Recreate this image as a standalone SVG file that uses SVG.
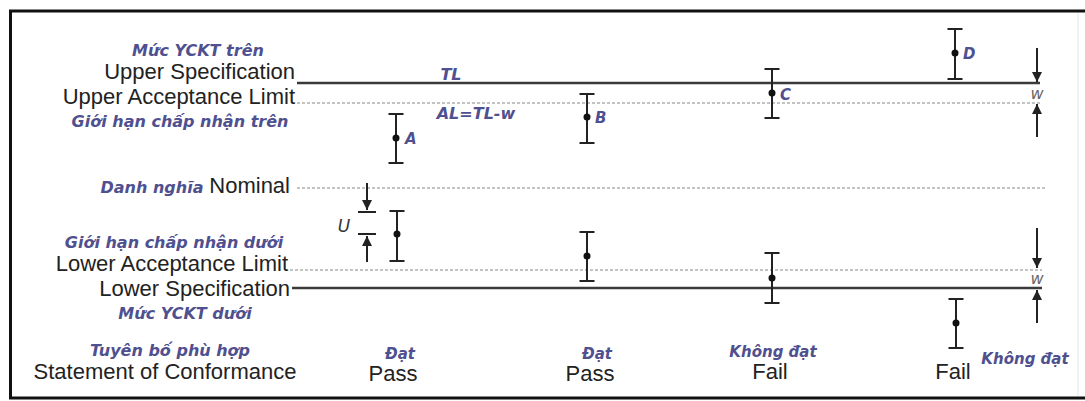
<svg xmlns="http://www.w3.org/2000/svg" width="1085" height="401" viewBox="0 0 1085 401">
  <style>
    .lbl { font-family: "Liberation Sans", Arial, sans-serif; font-size: 22px; fill: #222; }
    .vn { font-family: "DejaVu Sans", Verdana, sans-serif; font-size: 16px; font-style: italic; font-weight: bold; fill: #4f508f; }
    .pt { font-family: "DejaVu Sans", Verdana, sans-serif; font-size: 15px; font-style: italic; font-weight: bold; fill: #4f508f; }
    .w { font-family: "DejaVu Sans", Verdana, sans-serif; font-size: 16px; font-style: italic; fill: #666; }
    .u { font-family: "DejaVu Sans", Verdana, sans-serif; font-size: 17px; font-style: italic; fill: #333; }
    .spec { stroke: #3a3a3a; stroke-width: 2.5; fill: none; }
    .acc { stroke: #b0b0b0; stroke-width: 1.5; stroke-dasharray: 3 2; fill: none; }
    .bar { stroke: #222; stroke-width: 2; fill: none; }
    .dot { fill: #111; }
    .arr { stroke: #222; stroke-width: 2; fill: none; marker-end: url(#ah); }
    .tick { stroke: #222; stroke-width: 2; }
    .frame { stroke: #111; stroke-width: 3; fill: none; }
  </style>
  <defs>
    <marker id="ah" viewBox="0 0 10 10" refX="10" refY="5" markerWidth="10" markerHeight="10" markerUnits="userSpaceOnUse" orient="auto">
      <path d="M0,0 L10,5 L0,10 z" fill="#222"/>
    </marker>
  </defs>
  <rect x="0" y="0" width="1085" height="401" fill="#fff"/>

  <g id="frame">
    <path class="frame" d="M1085,11 L10.5,11 L10.5,398 L1085,398"/>
    <line x1="1078" y1="13" x2="1078" y2="396" stroke="#e4e4e4" stroke-width="1"/>
  </g>

  <g id="limits">
    <line class="spec" x1="297" y1="83" x2="1040" y2="83"/>
    <line class="acc" x1="297" y1="103" x2="1042" y2="103"/>
    <line class="acc" x1="297" y1="188" x2="1045" y2="188"/>
    <line class="acc" x1="290" y1="270" x2="1042" y2="270"/>
    <line class="spec" x1="292" y1="288" x2="1042" y2="288"/>
  </g>

  <g id="axis-labels">
    <text class="vn" x="198" y="56" text-anchor="middle">Mức YCKT trên</text>
    <text class="lbl" x="295" y="79" text-anchor="end">Upper Specification</text>
    <text class="lbl" x="295" y="104" text-anchor="end">Upper Acceptance Limit</text>
    <text class="vn" x="180" y="127" text-anchor="middle">Giới hạn chấp nhận trên</text>
    <text class="vn" x="152" y="193" text-anchor="middle">Danh nghĩa</text>
    <text class="lbl" x="290" y="193" text-anchor="end">Nominal</text>
    <text class="vn" x="174" y="248" text-anchor="middle">Giới hạn chấp nhận dưới</text>
    <text class="lbl" x="288" y="271" text-anchor="end">Lower Acceptance Limit</text>
    <text class="lbl" x="290" y="296" text-anchor="end">Lower Specification</text>
    <text class="vn" x="185" y="319" text-anchor="middle">Mức YCKT dưới</text>
    <text class="vn" x="170" y="356" text-anchor="middle">Tuyên bố phù hợp</text>
    <text class="lbl" x="165" y="379" text-anchor="middle">Statement of Conformance</text>
    <text class="vn" x="451" y="80" text-anchor="middle">TL</text>
    <text class="vn" x="476" y="119" text-anchor="middle">AL=TL-w</text>
  </g>

  <g id="bar-A">
    <path class="bar" d="M396,114 V163 M388.5,114 H403.5 M388.5,163 H403.5"/>
    <circle class="dot" cx="396" cy="138" r="3.5"/>
    <text class="pt" x="405" y="144">A</text>
  </g>
  <g id="bar-B">
    <path class="bar" d="M587,94 V143 M579.5,94 H594.5 M579.5,143 H594.5"/>
    <circle class="dot" cx="587" cy="117" r="3.5"/>
    <text class="pt" x="595" y="123">B</text>
  </g>
  <g id="bar-C">
    <path class="bar" d="M772,69 V118 M764.5,69 H779.5 M764.5,118 H779.5"/>
    <circle class="dot" cx="772" cy="93" r="3.5"/>
    <text class="pt" x="780" y="100">C</text>
  </g>
  <g id="bar-D">
    <path class="bar" d="M955,29 V79 M947.5,29 H962.5 M947.5,79 H962.5"/>
    <circle class="dot" cx="955" cy="53" r="3.5"/>
    <text class="pt" x="963" y="59">D</text>
  </g>

  <g id="bar-A-low">
    <path class="bar" d="M397,211 V261 M389.5,211 H404.5 M389.5,261 H404.5"/>
    <circle class="dot" cx="397" cy="234" r="3.5"/>
  </g>
  <g id="bar-B-low">
    <path class="bar" d="M587,232 V281 M579.5,232 H594.5 M579.5,281 H594.5"/>
    <circle class="dot" cx="587" cy="256" r="3.5"/>
  </g>
  <g id="bar-C-low">
    <path class="bar" d="M772,253 V303 M764.5,253 H779.5 M764.5,303 H779.5"/>
    <circle class="dot" cx="772" cy="278" r="3.5"/>
  </g>
  <g id="bar-D-low">
    <path class="bar" d="M956,299 V348 M948.5,299 H963.5 M948.5,348 H963.5"/>
    <circle class="dot" cx="956" cy="323" r="3.5"/>
  </g>

  <g id="verdicts">
    <text class="pt" x="400" y="359" text-anchor="middle">Đạt</text>
    <text class="lbl" x="393" y="381" text-anchor="middle">Pass</text>
    <text class="pt" x="597" y="359" text-anchor="middle">Đạt</text>
    <text class="lbl" x="590" y="381" text-anchor="middle">Pass</text>
    <text class="pt" x="773" y="357" text-anchor="middle">Không đạt</text>
    <text class="lbl" x="770" y="379" text-anchor="middle">Fail</text>
    <text class="lbl" x="953" y="379" text-anchor="middle">Fail</text>
    <text class="pt" x="1025" y="364" text-anchor="middle">Không đạt</text>
  </g>

  <g id="connectors">
    <line class="arr" x1="367" y1="183" x2="367" y2="210"/>
    <line class="tick" x1="358" y1="212" x2="376" y2="212"/>
    <line class="tick" x1="358" y1="234" x2="376" y2="234"/>
    <line class="arr" x1="367" y1="262" x2="367" y2="236"/>
    <line class="arr" x1="1037" y1="48" x2="1037" y2="82"/>
    <line class="arr" x1="1037" y1="137" x2="1037" y2="104"/>
    <line class="arr" x1="1037" y1="228" x2="1037" y2="268"/>
    <line class="arr" x1="1037" y1="323" x2="1037" y2="290"/>
  </g>

  <g id="dimension-labels">
    <text class="u" x="344" y="232" text-anchor="middle">U</text>
    <text class="w" x="1037" y="99" text-anchor="middle">w</text>
    <text class="w" x="1037" y="284" text-anchor="middle">w</text>
  </g>
</svg>
